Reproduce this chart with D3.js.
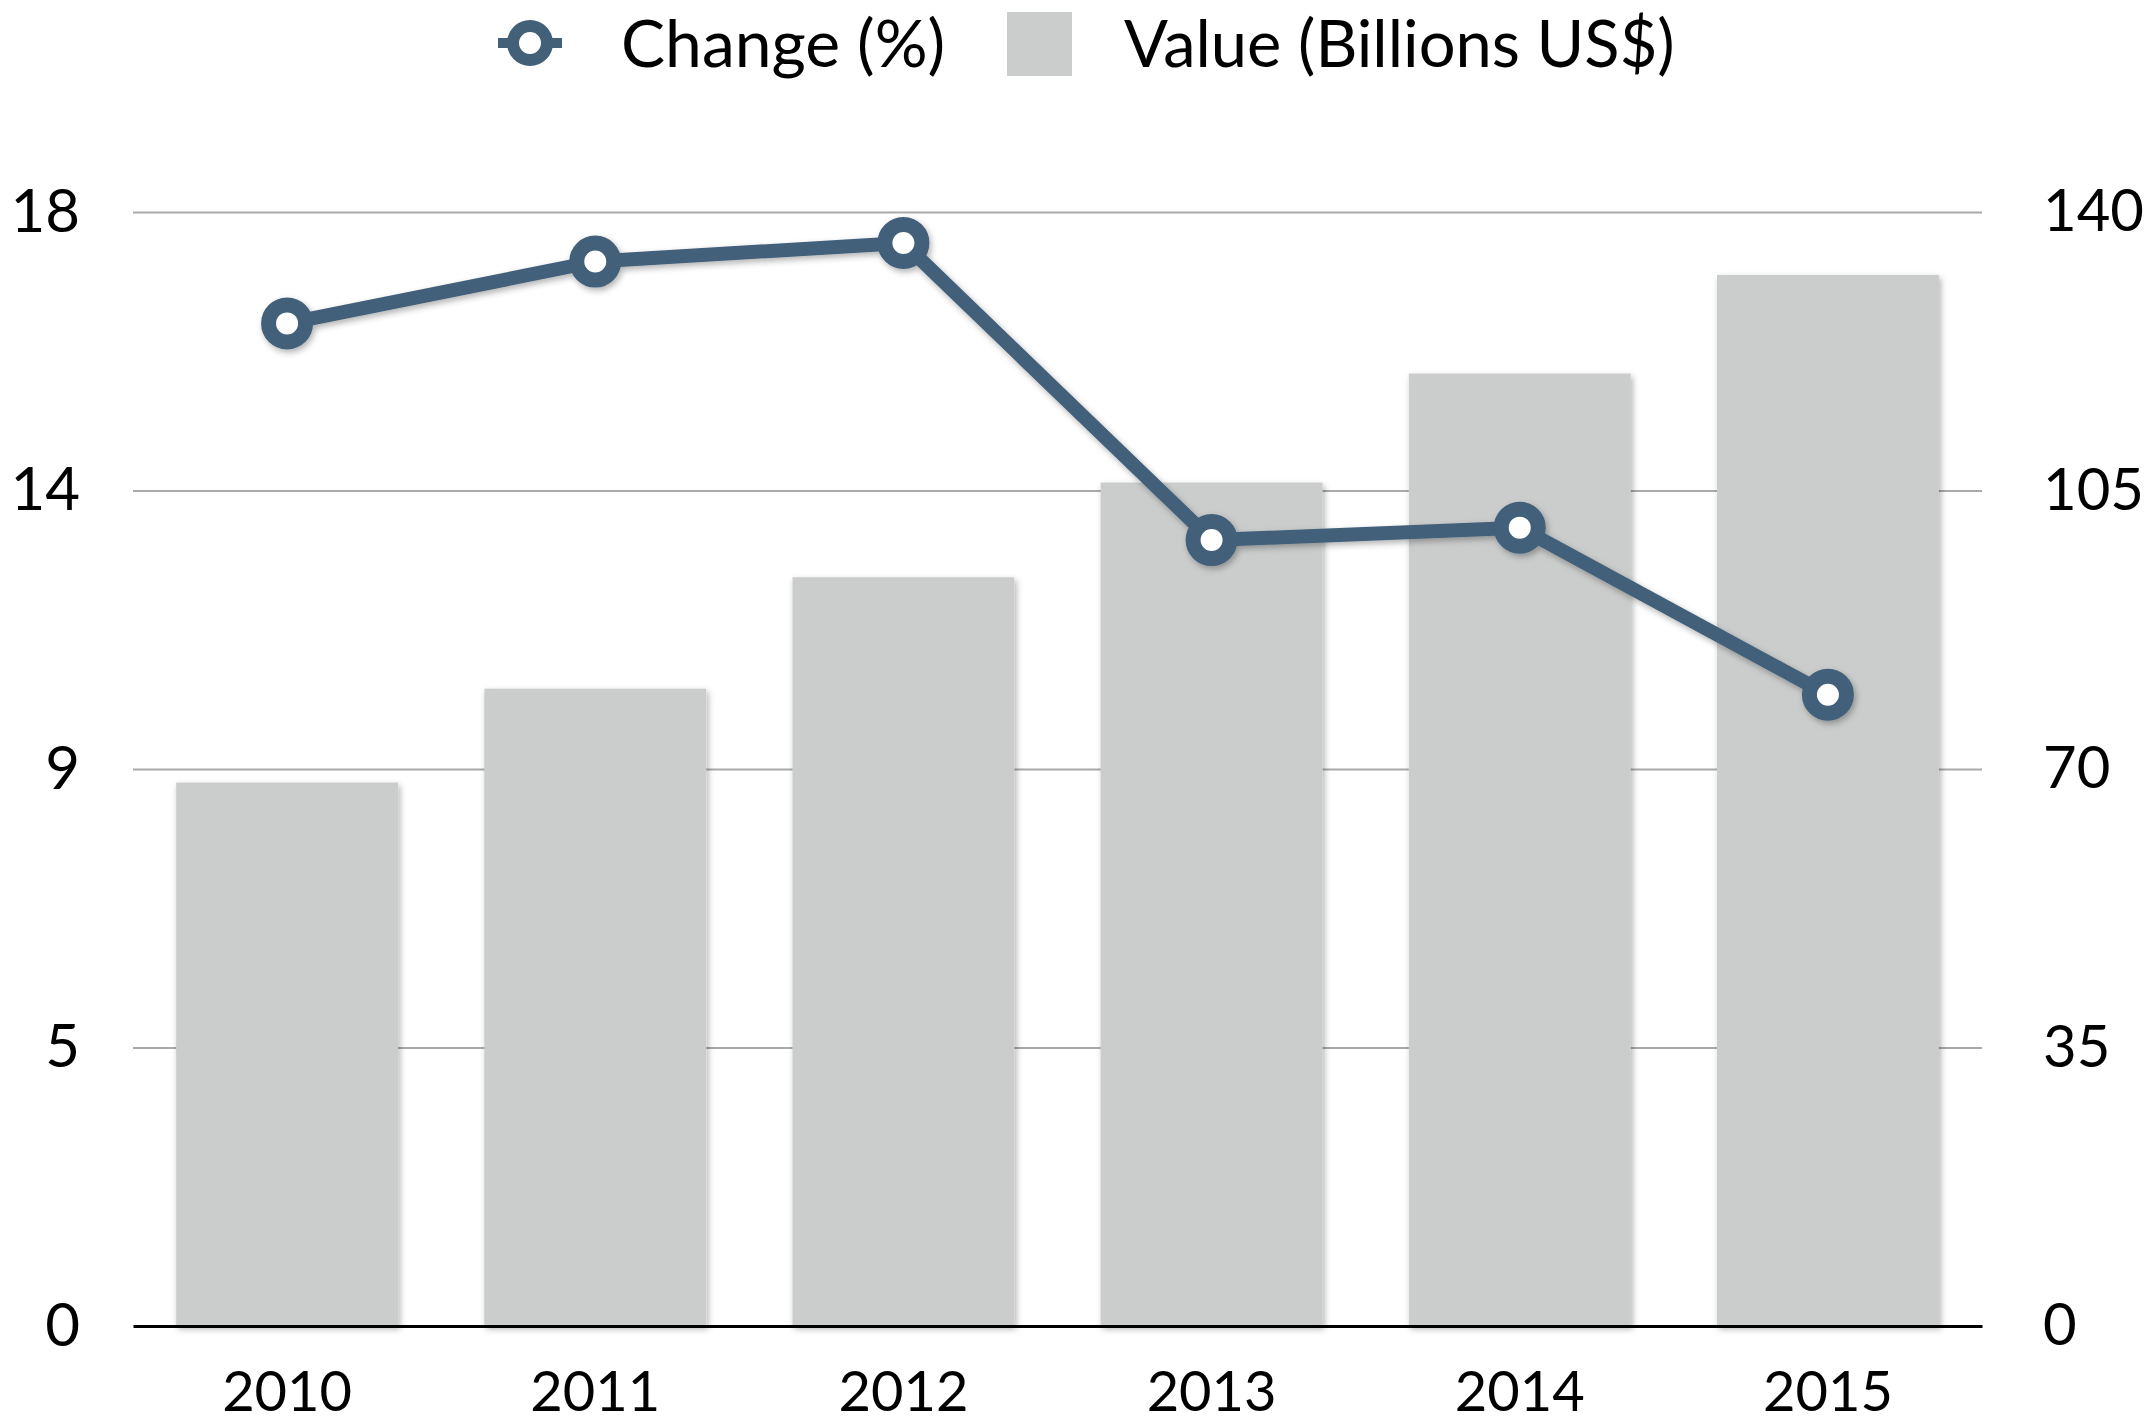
<!DOCTYPE html>
<html>
<head>
<meta charset="utf-8">
<script src="https://cdn.jsdelivr.net/npm/d3@7"></script>
<style>
  body { margin: 0; background: #fff; }
  text { font-family: Lato, "Open Sans", sans-serif; fill: #000; }
</style>
</head>
<body>
<div id="chart"></div>
<script>
// data
const years = ["2010", "2011", "2012", "2013", "2014", "2015"];
const changePct = [16.2, 17.2, 17.5, 12.7, 12.9, 10.2];   // left axis
const valueBn = [68.3, 80.1, 94.1, 106.0, 119.7, 132.1];  // right axis
const leftTicks = [0, 4.5, 9, 13.5, 18];
const leftTickLabels = ["0", "5", "9", "14", "18"];
const rightTicks = [0, 35, 70, 105, 140];
const legendLabels = ["Change (%)", "Value (Billions US$)"];

const W = 2146, H = 1424;
const margin = { top: 212, right: 164, bottom: 98, left: 133 };
const width = W - margin.left - margin.right;
const height = H - margin.top - margin.bottom;

const lineColor = "#436079";
const barColor = "#cbcdcc";

const svg = d3.select("#chart").append("svg")
    .attr("width", W)
    .attr("height", H);

// soft shadow like the original
const defs = svg.append("defs");
defs.append("filter")
    .attr("id", "shadow")
    .attr("x", "-10%").attr("y", "-10%")
    .attr("width", "130%").attr("height", "130%")
    .append("feDropShadow")
    .attr("dx", 2).attr("dy", 3)
    .attr("stdDeviation", 3)
    .attr("flood-color", "#000")
    .attr("flood-opacity", 0.3);

const g = svg.append("g")
    .attr("transform", `translate(${margin.left},${margin.top})`);

// scales
const x = d3.scaleBand().domain(years).range([0, width])
    .paddingInner(0.28).paddingOuter(0.14);
const yLeft = d3.scaleLinear().domain([0, 18]).range([height, 0]);
const yRight = d3.scaleLinear().domain([0, 140]).range([height, 0]);

// gridlines
g.append("g")
    .call(d3.axisLeft(yLeft).tickValues(leftTicks.slice(1)).tickSize(-width).tickFormat(""))
    .call(s => s.select(".domain").remove())
    .call(s => s.selectAll("line").attr("stroke", "#a9a9a9").attr("stroke-width", 2));

// bars
g.append("g")
    .selectAll("rect")
    .data(valueBn)
    .join("rect")
    .attr("x", (d, i) => x(years[i]))
    .attr("y", d => yRight(d))
    .attr("width", x.bandwidth())
    .attr("height", d => height - yRight(d))
    .attr("fill", barColor)
    .attr("filter", "url(#shadow)");

// left axis labels
g.append("g")
    .call(d3.axisLeft(yLeft).tickValues(leftTicks).tickSize(0).tickPadding(53)
        .tickFormat((d, i) => leftTickLabels[i]))
    .call(s => s.select(".domain").remove())
    .selectAll("text")
    .attr("font-size", "60px")
    .attr("font-family", "Lato, sans-serif");

// right axis labels
g.append("g")
    .attr("transform", `translate(${width},0)`)
    .call(d3.axisRight(yRight).tickValues(rightTicks).tickSize(0).tickPadding(61))
    .call(s => s.select(".domain").remove())
    .selectAll("text")
    .attr("font-size", "58px")
    .attr("font-family", "Lato, sans-serif");

// bottom axis
const xAxis = g.append("g")
    .attr("transform", `translate(0,${height})`)
    .call(d3.axisBottom(x).tickSize(0).tickPadding(45));
xAxis.select(".domain").attr("stroke", "#000").attr("stroke-width", 3);
xAxis.selectAll("text")
    .attr("font-size", "56px")
    .attr("font-family", "Lato, sans-serif");

// change line
const pts = changePct.map((d, i) => [x(years[i]) + x.bandwidth() / 2, yLeft(d)]);

const lineG = g.append("g").attr("filter", "url(#shadow)");
lineG.append("path")
    .datum(pts)
    .attr("fill", "none")
    .attr("stroke", lineColor)
    .attr("stroke-width", 14)
    .attr("stroke-linejoin", "round")
    .attr("d", d3.line());

lineG.selectAll("circle")
    .data(pts)
    .join("circle")
    .attr("cx", d => d[0])
    .attr("cy", d => d[1])
    .attr("r", 18.5)
    .attr("fill", "#fff")
    .attr("stroke", lineColor)
    .attr("stroke-width", 15);

// legend
const legend = svg.append("g");
legend.append("line")
    .attr("x1", 498).attr("x2", 562)
    .attr("y1", 43).attr("y2", 43)
    .attr("stroke", lineColor)
    .attr("stroke-width", 10);
legend.append("circle")
    .attr("cx", 530).attr("cy", 43)
    .attr("r", 17)
    .attr("fill", "#fff")
    .attr("stroke", lineColor)
    .attr("stroke-width", 12);
legend.append("text")
    .attr("x", 621).attr("y", 67)
    .attr("font-size", "66px")
    .text(legendLabels[0]);

legend.append("rect")
    .attr("x", 1007).attr("y", 12)
    .attr("width", 65).attr("height", 64)
    .attr("fill", barColor);
legend.append("text")
    .attr("x", 1124).attr("y", 67)
    .attr("font-size", "65px")
    .text(legendLabels[1]);
</script>
</body>
</html>
